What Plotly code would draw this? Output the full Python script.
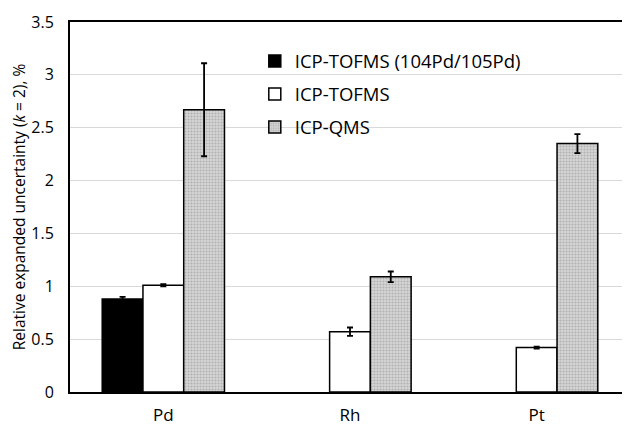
import plotly.graph_objects as go

categories = ["Pd", "Rh", "Pt"]
series_names = ["ICP-TOFMS (104Pd/105Pd)", "ICP-TOFMS", "ICP-QMS"]
tofms_ratio = [0.88, None, None]
tofms_ratio_err = [0.02, 0, 0]
tofms = [1.01, 0.57, 0.42]
tofms_err = [0.01, 0.04, 0.01]
qms = [2.67, 1.09, 2.35]
qms_err = [0.44, 0.05, 0.09]
y_ticks = [0, 0.5, 1, 1.5, 2, 2.5, 3, 3.5]
y_labels = ["0", "0.5", "1", "1.5", "2", "2.5", "3", "3.5"]

font_family = "Open Sans"
# page has an 8px body margin, so the figure is sized to fill the rest of the window
PAGE_OFFSET = 8

fig = go.Figure()
err_style = dict(type="data", color="black", thickness=1.8, width=3)

fig.add_trace(go.Bar(
    x=categories, y=tofms_ratio, name=series_names[0], legendgroup="g1",
    marker=dict(color="black", line=dict(color="black", width=1.5)),
    error_y=dict(array=tofms_ratio_err, **err_style),
))
fig.add_trace(go.Bar(
    x=categories, y=tofms, name=series_names[1], legendgroup="g2",
    marker=dict(color="white", line=dict(color="black", width=1.5)),
    error_y=dict(array=tofms_err, **err_style),
))
fig.add_trace(go.Bar(
    x=categories, y=qms, name=series_names[2], legendgroup="g3",
    marker=dict(color="#c8c8c8", line=dict(color="black", width=1.5),
                pattern=dict(shape=".", size=3, solidity=0.4,
                             fgcolor="#8a8a8a", bgcolor="#d6d6d6")),
    error_y=dict(array=qms_err, **err_style),
))

fig.update_layout(
    width=630 - PAGE_OFFSET, height=429 - PAGE_OFFSET,
    margin=dict(l=70 - PAGE_OFFSET, r=0, t=22 - PAGE_OFFSET, b=37),
    paper_bgcolor="white", plot_bgcolor="white",
    barmode="group", bargap=0.345, bargroupgap=0,
    font=dict(family=font_family, size=16, color="black"),
    showlegend=True,
    legend=dict(x=0.33, y=0.945, xanchor="left", yanchor="top",
                bgcolor="rgba(0,0,0,0)", font=dict(size=18.5, family=font_family),
                tracegroupgap=6, itemwidth=30),
)
fig.update_xaxes(
    showline=True, linecolor="black", linewidth=2, mirror=True,
    ticks="", showgrid=False, range=[-0.5, 2.5], automargin=False,
    ticklabelstandoff=7,
    tickfont=dict(size=17, family=font_family),
)
fig.update_yaxes(
    range=[0, 3.5], tickvals=y_ticks, ticktext=y_labels,
    showline=True, linecolor="black", linewidth=2,
    showgrid=True, gridcolor="#d9d9d9", gridwidth=1,
    ticks="", ticklen=0, zeroline=False, automargin=False,
    ticklabelstandoff=11,
    tickfont=dict(size=16, family=font_family),
    title=dict(text="Relative expanded uncertainty (<i>k</i> = 2), %",
               font=dict(size=15.5, family=font_family), standoff=6),
)

fig.write_html("out.html")
